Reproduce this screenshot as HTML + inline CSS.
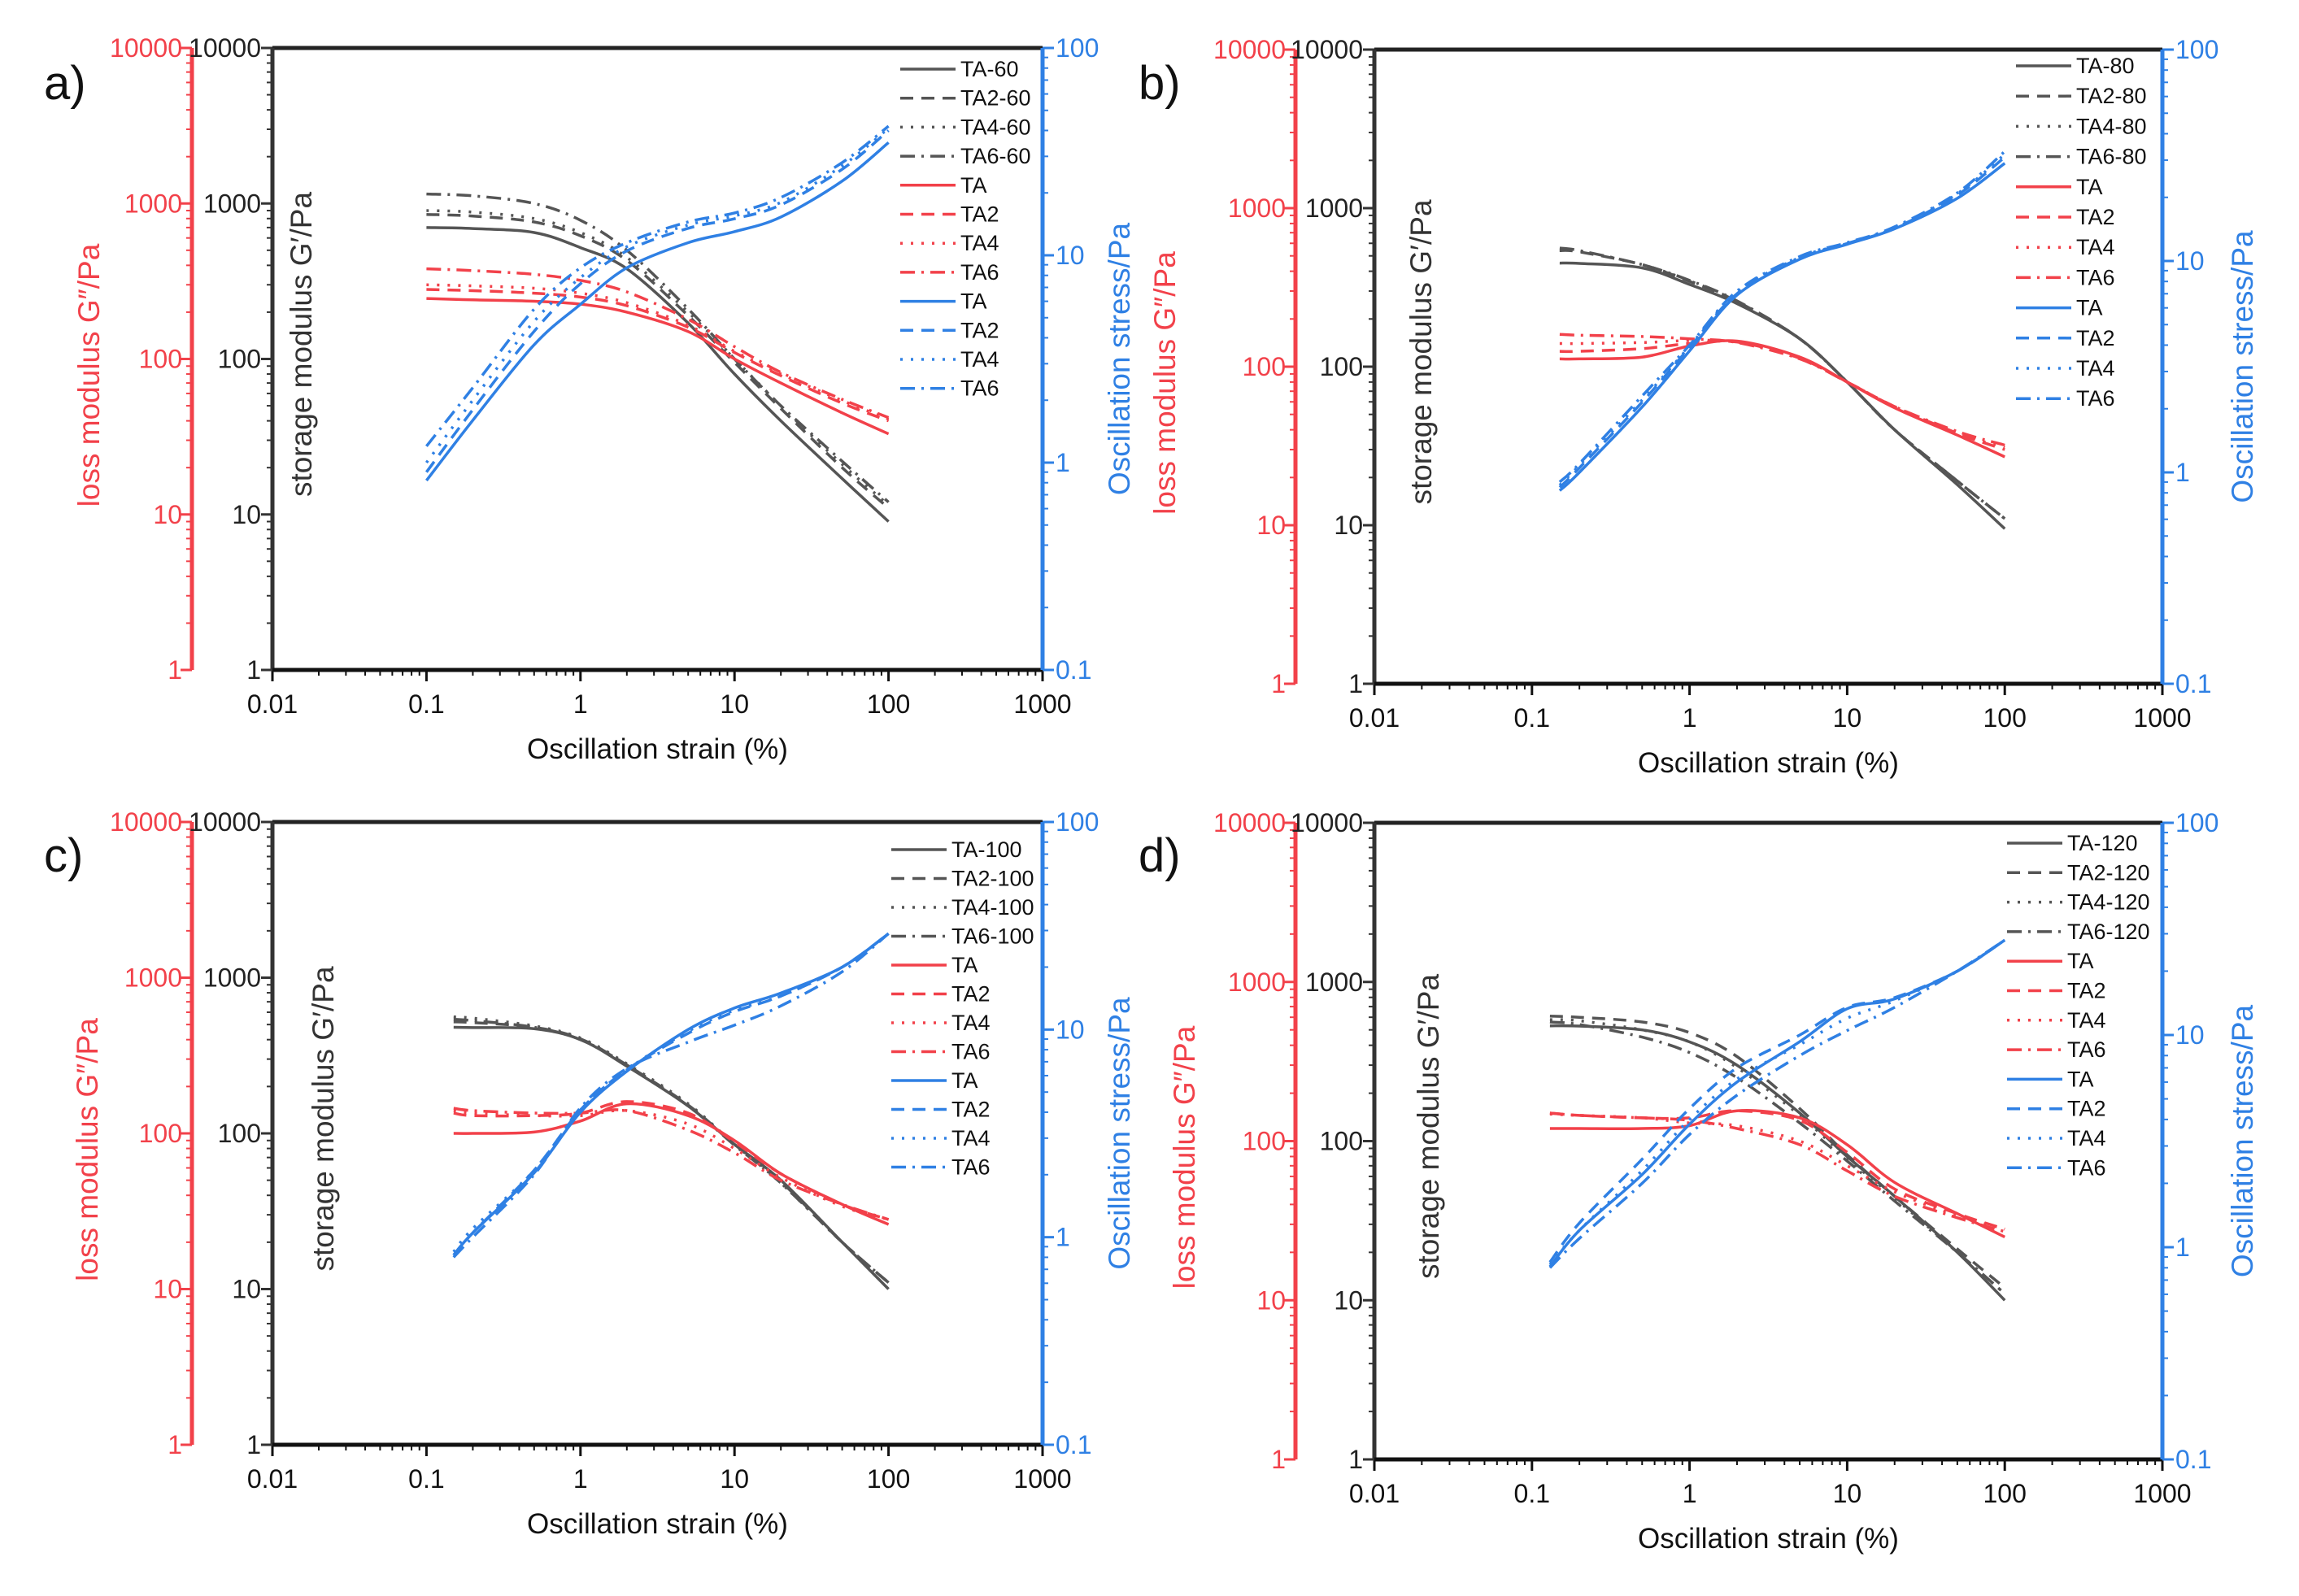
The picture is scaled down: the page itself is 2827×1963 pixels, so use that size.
<!DOCTYPE html>
<html><head><meta charset="utf-8"><style>
html,body{margin:0;padding:0;background:#fff;}
svg{display:block;font-family:"Liberation Sans",sans-serif;}
</style></head><body>
<svg id="fig" width="2827" height="1963" viewBox="0 0 2827 1963" xmlns="http://www.w3.org/2000/svg"></svg>
<script>
// ===== DATA =====
const xTickLabels = ["0.01","0.1","1","10","100","1000"];
const modTickLabels = ["1","10","100","1000","10000"];
const stressTickLabels = ["0.1","1","10","100"];
const seriesNames = ["TA","TA2","TA4","TA6"];

const aStrain = [0.1,0.2,0.5,1,2,5,10,20,50,100];
const aStorage = [[700,690,650,520,380,170,80,40,17,9],[850,830,760,620,430,190,95,48,20,11],[900,880,800,650,450,200,100,50,21,11.5],[1150,1120,1000,780,500,210,100,50,22,12]];
const aLoss = [[245,240,235,225,200,150,100,70,45,33],[280,275,265,250,220,160,110,78,52,40],[300,295,285,265,230,165,112,80,54,41],[380,370,350,320,270,180,120,82,55,42]];
const aStress = [[0.82,1.6,3.7,5.8,8.7,11.5,13,15.3,22.8,35],[0.9,1.8,4.3,7.3,10.5,13.5,15,17.5,26,40],[1.0,2.0,4.8,7.8,11,14,15.5,18,27,41],[1.2,2.3,5.5,8.7,11.5,14.5,16,19,28,42]];

const bStrain = [0.15,0.2,0.5,1,2,5,10,20,50,100];
const bStorage = [[450,448,420,330,250,150,80,40,18,9.5],[540,530,440,345,258,150,80,40,19,11],[545,535,440,348,258,150,80,40,19,11],[560,540,440,350,260,150,80,40,19,11]];
const bLoss = [[112,112,115,135,145,115,80,55,37,27],[125,125,130,140,143,113,80,56,38,30],[140,140,142,146,143,113,80,56,38,31],[160,158,155,150,142,112,80,56,39,32]];
const bStress = [[0.82,1.0,2.04,3.76,6.9,10.2,12,14.2,19.8,29],[0.85,1.05,2.15,3.9,7.0,10.3,12.1,14.3,20.5,31],[0.87,1.08,2.2,3.95,7.1,10.4,12.1,14.4,20.8,32],[0.9,1.1,2.3,4.0,7.2,10.5,12.2,14.5,21,33]];

const cStrain = [0.15,0.2,0.5,1,2,5,10,20,50,100];
const cStorage = [[480,478,470,400,270,150,85,50,20,10],[520,515,480,405,275,152,85,49,20,11],[560,550,490,410,280,155,85,48,20,11],[540,530,480,400,275,150,84,48,20,11]];
const cLoss = [[100,100,102,120,155,130,90,55,35,26],[135,130,130,135,160,135,88,55,35,28],[140,135,130,130,140,115,80,52,34,28],[145,140,135,135,140,105,75,50,35,28]];
const cStress = [[0.82,1.05,2.04,4.0,6.3,10,12.7,15,20,29],[0.82,1.05,2.1,4.1,6.4,9.6,12.2,14.5,20,29],[0.85,1.1,2.1,4.1,6.4,9.8,12.4,14.5,20,29],[0.8,1.0,2.0,4.2,6.5,8.7,10.5,13,19,29]];

const dStrain = [0.13,0.2,0.5,1,2,5,10,20,50,100];
const dStorage = [[530,528,500,420,300,150,80,45,20,10],[610,600,560,480,340,160,82,45,21,12],[580,570,500,420,290,145,78,44,20,11],[560,540,450,360,250,130,75,42,20,11]];
const dLoss = [[120,120,120,125,155,140,95,55,35,25],[150,145,140,140,155,135,85,50,35,28],[148,145,140,130,125,100,70,48,34,28],[150,145,140,135,120,95,65,45,33,27]];
const dStress = [[0.81,1.2,2.2,3.8,6.0,9.3,13.3,14.8,20,28],[0.85,1.3,2.6,4.5,7.0,10,13.5,15,20,28],[0.83,1.2,2.3,4.0,6.2,9.0,12,14.5,20,28],[0.8,1.1,2.0,3.4,5.2,8,10.5,13.5,20,28]];

// ===== LAYOUT =====
const panels = [
 {id:"a",label:"a)",lx:54,ly:122,L:335,R:1282,T:59,B:824,red:236,redT:122,grayT:383,blueT:1389,legX:1107,legY:85,legStep:35.7,temp:"60",strain:aStrain,storage:aStorage,loss:aLoss,stress:aStress},
 {id:"b",label:"b)",lx:1400,ly:122,L:1690,R:2659,T:61,B:841,red:1593,redT:1445,grayT:1760,blueT:2770,legX:2479,legY:81,legStep:37.2,temp:"80",strain:bStrain,storage:bStorage,loss:bLoss,stress:bStress},
 {id:"c",label:"c)",lx:54,ly:1072,L:335,R:1282,T:1011,B:1777,red:236,redT:120,grayT:410,blueT:1389,legX:1096,legY:1045,legStep:35.5,temp:"100",strain:cStrain,storage:cStorage,loss:cLoss,stress:cStress},
 {id:"d",label:"d)",lx:1400,ly:1072,L:1690,R:2659,T:1012,B:1795,red:1593,redT:1469,grayT:1769,blueT:2770,legX:2468,legY:1037,legStep:36.3,temp:"120",strain:dStrain,storage:dStorage,loss:dLoss,stress:dStress}
];
const GRAY="#555555", RED="#f2414a", BLUE="#2f80e4";
const dashes=["none","16,10","3,10","18,8,3,8"];
const NS="http://www.w3.org/2000/svg";
const svg=document.getElementById("fig");
function mk(tag,attrs,parent){const e=document.createElementNS(NS,tag);for(const k in attrs)e.setAttribute(k,attrs[k]);(parent||svg).appendChild(e);return e;}
function smooth(pts){let d="M"+pts[0][0].toFixed(1)+","+pts[0][1].toFixed(1);for(let i=0;i<pts.length-1;i++){const p0=pts[Math.max(i-1,0)],p1=pts[i],p2=pts[i+1],p3=pts[Math.min(i+2,pts.length-1)];const c1=[p1[0]+(p2[0]-p0[0])/6,p1[1]+(p2[1]-p0[1])/6],c2=[p2[0]-(p3[0]-p1[0])/6,p2[1]-(p3[1]-p1[1])/6];d+="C"+c1[0].toFixed(1)+","+c1[1].toFixed(1)+" "+c2[0].toFixed(1)+","+c2[1].toFixed(1)+" "+p2[0].toFixed(1)+","+p2[1].toFixed(1);}return d;}

panels.forEach(p=>{
 const g=mk("g",{});
 
 
 const xs=v=>p.L+(Math.log10(v)+2)/5*(p.R-p.L);
 const ym=v=>p.B-Math.log10(v)/4*(p.B-p.T);
 const ysd=v=>p.B-(Math.log10(v)+1)/3*(p.B-p.T);
 const lbl=mk("text",{x:p.lx,y:p.ly,"font-size":58,fill:"#111"},g);lbl.textContent=p.label;
 
 const groups=[["storage",GRAY,ym],["loss",RED,ym],["stress",BLUE,ysd]];
 groups.forEach(([key,col,yf])=>{
  p[key].forEach((vals,si)=>{
   const pts=vals.map((v,i)=>[xs(p.strain[i]),yf(v)]);
   const path=mk("path",{d:smooth(pts),fill:"none",stroke:col,"stroke-width":3.5,"stroke-dasharray":dashes[si]},g);
   
   
  });
 });
 mk("line",{x1:p.L,y1:p.T,x2:p.R,y2:p.T,stroke:"#222","stroke-width":5},g);
 mk("line",{x1:p.L,y1:p.T,x2:p.L,y2:p.B,stroke:"#333","stroke-width":5},g);
 mk("line",{x1:p.L,y1:p.B,x2:p.R,y2:p.B,stroke:"#111","stroke-width":5},g);
 mk("line",{x1:p.R,y1:p.T,x2:p.R,y2:p.B,stroke:BLUE,"stroke-width":5},g);
 mk("line",{x1:p.red,y1:p.T,x2:p.red,y2:p.B,stroke:RED,"stroke-width":5},g);
 for(let e=-2;e<=3;e++){
  const x=xs(Math.pow(10,e));
  mk("line",{x1:x,y1:p.B,x2:x,y2:p.B+14,stroke:"#111","stroke-width":3},g);
  const t=mk("text",{x:x,y:p.B+53,"font-size":32,"text-anchor":"middle",fill:"#111"},g);t.textContent=xTickLabels[e+2];
  
  if(e<3)for(let m=2;m<10;m++){const xm=xs(m*Math.pow(10,e));mk("line",{x1:xm,y1:p.B,x2:xm,y2:p.B+7,stroke:"#111","stroke-width":2},g);}
 }
 for(let e=0;e<=4;e++){
  const y=ym(Math.pow(10,e));
  mk("line",{x1:p.L-14,y1:y,x2:p.L,y2:y,stroke:"#333","stroke-width":3},g);
  mk("line",{x1:p.red-14,y1:y,x2:p.red,y2:y,stroke:RED,"stroke-width":3},g);
  const t1=mk("text",{x:p.L-14,y:y+11,"font-size":32,"text-anchor":"end",fill:"#222"},g);t1.textContent=modTickLabels[e];
  
  const t2=mk("text",{x:p.red-12,y:y+11,"font-size":32,"text-anchor":"end",fill:RED},g);t2.textContent=modTickLabels[e];
  
  if(e<4)for(let m=2;m<10;m++){const yy=ym(m*Math.pow(10,e));mk("line",{x1:p.L-7,y1:yy,x2:p.L,y2:yy,stroke:"#333","stroke-width":2},g);mk("line",{x1:p.red-7,y1:yy,x2:p.red,y2:yy,stroke:RED,"stroke-width":2},g);}
 }
 for(let e=-1;e<=2;e++){
  const y=ysd(Math.pow(10,e));
  mk("line",{x1:p.R,y1:y,x2:p.R+14,y2:y,stroke:BLUE,"stroke-width":3},g);
  const t=mk("text",{x:p.R+16,y:y+11,"font-size":32,fill:BLUE},g);t.textContent=stressTickLabels[e+1];
  
  if(e<2)for(let m=2;m<10;m++){const yy=ysd(m*Math.pow(10,e));mk("line",{x1:p.R,y1:yy,x2:p.R+7,y2:yy,stroke:BLUE,"stroke-width":2},g);}
 }
 const xt=mk("text",{x:(p.L+p.R)/2,y:p.B+109,"font-size":35,"text-anchor":"middle",fill:"#111"},g);xt.textContent="Oscillation strain (%)";
 
 const cy=(p.T+p.B)/2;
 const rt=mk("text",{x:p.redT,y:cy+20,"font-size":37,"text-anchor":"middle",fill:RED,transform:`rotate(-90 ${p.redT} ${cy+20})`},g);rt.textContent="loss modulus G\u2033/Pa";
 
 const gt=mk("text",{x:p.grayT,y:cy-18,"font-size":37,"text-anchor":"middle",fill:"#333",transform:`rotate(-90 ${p.grayT} ${cy-18})`},g);gt.textContent="storage modulus G\u2032/Pa";
 
 const bt=mk("text",{x:p.blueT,y:cy,"font-size":37,"text-anchor":"middle",fill:BLUE,transform:`rotate(-90 ${p.blueT} ${cy})`},g);bt.textContent="Oscillation stress/Pa";
 
 const leg=mk("g",{},g);
 
 const entries=[];
 seriesNames.forEach((n,i)=>entries.push([n+"-"+p.temp,GRAY,i]));
 seriesNames.forEach((n,i)=>entries.push([n,RED,i]));
 seriesNames.forEach((n,i)=>entries.push([n,BLUE,i]));
 entries.forEach(([txt,col,si],k)=>{
  const y=p.legY+k*p.legStep;
  mk("line",{x1:p.legX,y1:y,x2:p.legX+68,y2:y,stroke:col,"stroke-width":3.5,"stroke-dasharray":dashes[si]},leg);
  const t=mk("text",{x:p.legX+74,y:y+9,"font-size":27,fill:"#111"},leg);t.textContent=txt;
  
 });
});
</script>
</body></html>
